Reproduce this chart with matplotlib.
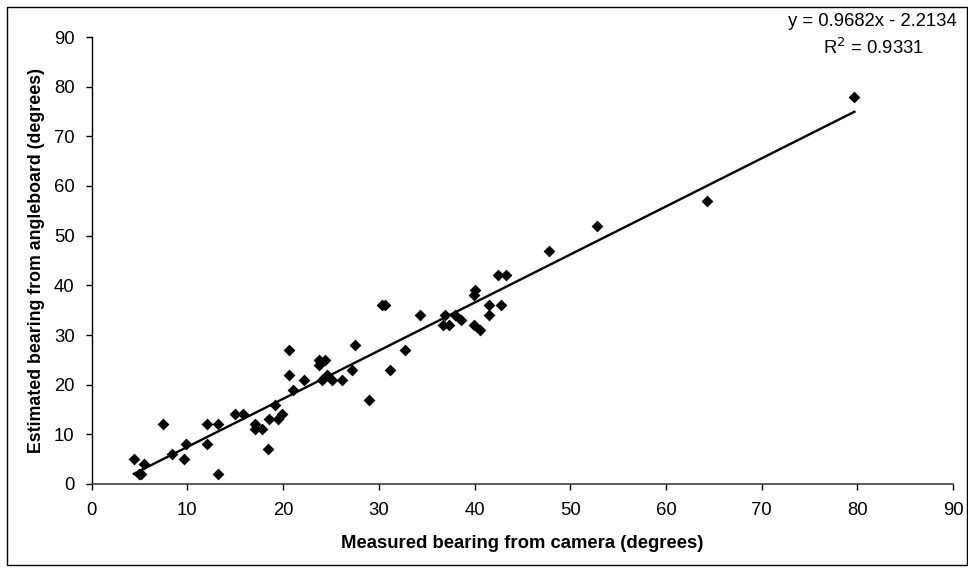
import matplotlib
matplotlib.use("Agg")
import matplotlib.pyplot as plt
from matplotlib.patches import Rectangle
import numpy as np

plt.rcParams['font.family'] = ['Liberation Sans', 'DejaVu Sans']

measured = [4.4, 4.9, 5.2, 5.5, 7.5, 8.4, 9.6, 9.85, 12.0, 12.0, 13.2, 13.2,
            15.0, 15.8, 17.1, 17.1, 17.8, 18.4, 18.5, 19.2, 19.5, 19.9, 20.6,
            20.6, 21.0, 22.2, 23.7, 23.7, 24.4, 24.1, 24.6, 25.1, 26.2, 27.2,
            27.5, 29.0, 30.3, 30.7, 31.2, 32.7, 34.3, 36.7, 36.9, 37.3, 38.0,
            38.6, 39.9, 39.9, 40.05, 40.6, 41.5, 41.5, 42.5, 43.3, 42.8, 47.8,
            52.8, 64.3, 79.7]
estimated = [5, 2, 2, 4, 12, 6, 5, 8, 12, 8, 12, 2,
             14, 14, 12, 11, 11, 7, 13, 16, 13, 14, 27,
             22, 19, 21, 25, 24, 25, 21, 22, 21, 21, 23,
             28, 17, 36, 36, 23, 27, 34, 32, 34, 32, 34,
             33, 32, 38, 39, 31, 36, 34, 42, 42, 36, 47,
             52, 57, 78]
slope = 0.9682
intercept = -2.2134
r_squared = 0.9331
x_ticks = [0, 10, 20, 30, 40, 50, 60, 70, 80, 90]
y_ticks = [0, 10, 20, 30, 40, 50, 60, 70, 80, 90]

W, H = 968, 572
fig = plt.figure(figsize=(W / 100, H / 100), dpi=100)
fig.patch.set_facecolor('white')

# outer chart border
fig.add_artist(Rectangle((7 / W, 1 - 565 / H), (967 - 7) / W, (565 - 7) / H,
                         transform=fig.transFigure, fill=False,
                         edgecolor='black', linewidth=1.0))

left, right, top, bottom = 91.7, 953, 37, 484
ax = fig.add_axes([left / W, 1 - bottom / H, (right - left) / W, (bottom - top) / H])

ax.scatter(measured, estimated, marker='D', s=36, color='black', zorder=3,
           linewidths=0)
xs = np.array([min(measured), max(measured)])
ax.plot(xs, slope * xs + intercept, color='black', linewidth=1.7, zorder=2)

ax.set_xlim(0, 90)
ax.set_ylim(0, 90)
ax.set_xticks(x_ticks)
ax.set_yticks(y_ticks)
ax.tick_params(axis='both', direction='out', length=4.3, width=1, labelsize=13.3,
               color='black')
ax.tick_params(axis='x', pad=9)
ax.tick_params(axis='y', pad=8)
for s in ['top', 'right']:
    ax.spines[s].set_visible(False)
ax.spines['left'].set_color('black')
ax.spines['bottom'].set_color('#404040')
ax.spines['left'].set_linewidth(1)
ax.spines['bottom'].set_linewidth(1.2)

fig.text((left + right) / 2 / W, 1 - 548 / H, 'Measured bearing from camera (degrees)',
         ha='center', va='baseline', fontsize=13.3, fontweight='bold')
fig.text(37 / W, 1 - ((top + bottom) / 2) / H, 'Estimated bearing from angleboard (degrees)',
         ha='center', va='center', rotation=90, fontsize=12.8, fontweight='bold')

fig.text(957 / W, 1 - 22 / H, 'y = %.4fx - %.4f' % (slope, abs(intercept)),
         ha='right', va='center', fontsize=13.3)
fig.text(874 / W, 1 - 48 / H, r'R$^2$ = %.4f' % r_squared,
         ha='center', va='center', fontsize=13.3)

fig.savefig('out.png', dpi=100, facecolor='white')
